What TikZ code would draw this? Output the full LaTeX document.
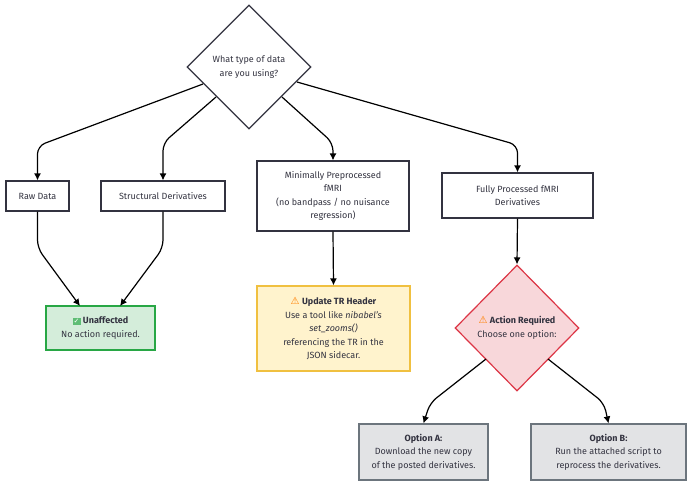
\documentclass[tikz,border=0pt]{standalone}
\usepackage{fontspec}
\setmainfont{Fira Sans}
\newfontfamily\symf{DejaVu Sans}
\usetikzlibrary{shapes.geometric,arrows.meta}
\definecolor{txt}{HTML}{333340}
\definecolor{gfill}{HTML}{D4EDDA}\definecolor{gline}{HTML}{28A745}
\definecolor{yfill}{HTML}{FFF3CD}\definecolor{yline}{HTML}{F0C040}
\definecolor{rfill}{HTML}{F8D7DA}\definecolor{rline}{HTML}{DC3545}
\definecolor{afill}{HTML}{E2E3E5}\definecolor{aline}{HTML}{6C757D}
\newcommand{\warnsym}{{\symf\textcolor{orange}{\normalsize ⚠}}}
\newcommand{\oksym}{{\setlength\fboxsep{1pt}\colorbox{gline!75}{\textcolor{white}{\symf\scriptsize ✓}}}}
\begin{document}
\begin{tikzpicture}[x=1pt,y=-1pt,
  every node/.style={font=\fontsize{9}{13.5}\selectfont,text=txt,align=center},
  box/.style={draw=txt,line width=1.2pt,fill=white,rectangle,inner sep=0},
  dia/.style={draw=txt,line width=1.2pt,fill=white,diamond,inner sep=0},
  arr/.style={draw=black,line width=1.2pt,rounded corners=8pt,-{Latex[length=7pt,width=7pt]}}]
\useasboundingbox (0,0) rectangle (690,487);
\node[dia,minimum width=124,minimum height=124] (q) at (249,67) {What type of data\\are you using?};
\node[box,minimum width=63,minimum height=30] (raw) at (37.5,196) {Raw Data};
\node[box,minimum width=124,minimum height=30] (str) at (163,196) {Structural Derivatives};
\node[box,minimum width=152,minimum height=70] (min) at (333,196) {Minimally Preprocessed\\fMRI\\(no bandpass / no nuisance\\regression)};
\node[box,minimum width=151,minimum height=45] (ful) at (517.5,195.5) {Fully Processed fMRI\\Derivatives};
\node[box,draw=gline,fill=gfill,minimum width=109,minimum height=44] (un) at (100.5,328) {\oksym\ \textbf{Unaffected}\\No action required.};
\node[box,draw=yline,fill=yfill,minimum width=153,minimum height=85] (up) at (333.5,328.5) {\warnsym\ \textbf{Update TR Header}\\Use a tool like \textit{nibabel's}\\\textit{set\_zooms()}\\referencing the TR in the\\JSON sidecar.};
\node[dia,draw=rline,fill=rfill,minimum width=124,minimum height=126] (act) at (517,328) {\warnsym\ \textbf{Action Required}\\Choose one option:};
\node[box,draw=aline,fill=afill,minimum width=129,minimum height=56] (oa) at (423.5,452) {\textbf{Option A:}\\Download the new copy\\of the posted derivatives.};
\node[box,draw=aline,fill=afill,minimum width=155,minimum height=56] (ob) at (608.5,452) {\textbf{Option B:}\\Run the attached script to\\reprocess the derivatives.};
\coordinate (q1) at (203,84); \coordinate (q2) at (216,97);
\coordinate (q3) at (282,97); \coordinate (q4) at (297,82);
\draw[arr] (q1) -- (37.5,146) -- (raw.north);
\draw[arr] (q2) -- (163,143) -- (str.north);
\draw[arr] (q3) -- (333,143) -- (min.north);
\draw[arr] (q4) -- (517.5,145) -- (ful.north);
\draw[arr] (raw.south) -- (37.5,248) -- (80,306);
\draw[arr] (str.south) -- (163,248) -- (120,306);
\draw[arr] (min.south) -- (up.north);
\draw[arr] (ful.south) -- (act.north);
\coordinate (a1) at (486,359); \coordinate (a2) at (548,359);
\draw[arr] (a1) -- (430,403) -- (oa.north);
\draw[arr] (a2) -- (604,403) -- (ob.north);
\end{tikzpicture}
\end{document}
